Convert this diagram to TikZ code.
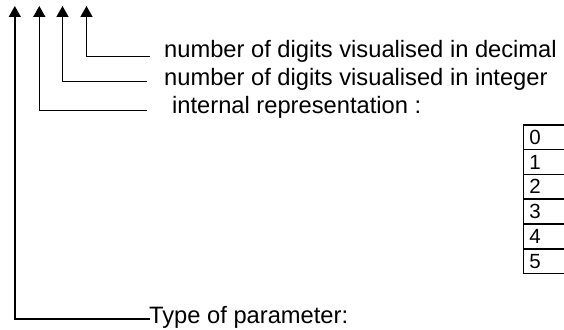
\documentclass[tikz,border=0pt]{standalone}
\usepackage{fontspec}
\setmainfont{Liberation Sans}
\usetikzlibrary{arrows.meta}
\begin{document}
\begin{tikzpicture}[x=1pt,y=-1pt,
  conn/.style={line width=1.5pt},
  arr/.style={conn,-{Triangle[width=12pt,length=11pt]}},
  lbl/.style={anchor=base west,inner sep=0pt,font=\fontsize{23.7}{26}\selectfont},
  cell/.style={draw,line width=1.5pt,minimum width=70pt,minimum height=24.8pt,inner sep=0pt,anchor=north west},
  digit/.style={anchor=west,inner sep=0pt,font=\fontsize{20.5}{22}\selectfont}
]
\useasboundingbox (0,0) rectangle (564,329);
% labels
\node[lbl] (ldec) at (164,57.5) {number of digits visualised in decimal};
\node[lbl] (lint) at (164,85) {number of digits visualised in integer};
\node[lbl] (lrep) at (172,113) {internal representation :};
\node[lbl] (ltyp) at (149,323.5) {Type of parameter:};
% arrow tips
\coordinate (t1) at (14.8,6);
\coordinate (t2) at (39.3,6);
\coordinate (t3) at (62.5,6);
\coordinate (t4) at (86.5,6);
% line ends
\coordinate (e4) at (150,56.7);
\coordinate (e3) at (147,81.7);
\coordinate (e2) at (147,110.7);
\coordinate (e1) at (150,319);
\draw[arr] (e4) -| (t4);
\draw[arr] (e3) -| (t3);
\draw[arr] (e2) -| (t2);
\draw[arr] (e1) -| (t1);
% table
\foreach \i in {0,...,5}{
  \node[cell] (c\i) at (522.7,124+24.8*\i) {};
  \node[digit] (d\i) at ([xshift=6.5pt]c\i.west) {\i};
}
\end{tikzpicture}
\end{document}
